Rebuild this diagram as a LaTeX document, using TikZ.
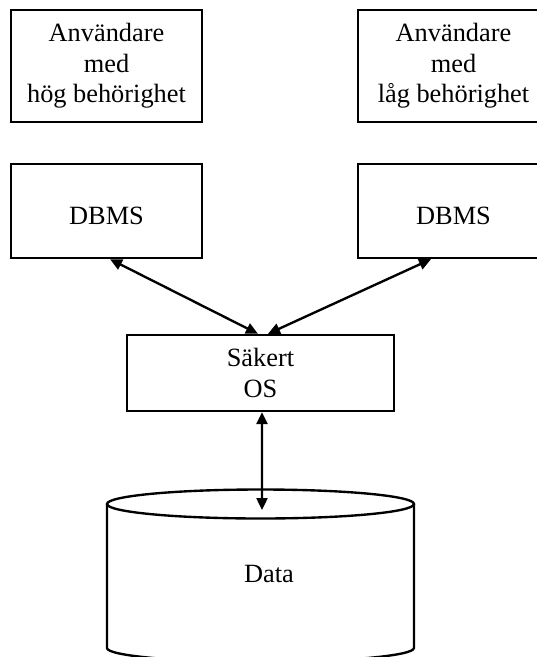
\documentclass[tikz,border=0pt]{standalone}
\usepackage{fontspec}
\setmainfont{Liberation Serif}
\usetikzlibrary{arrows.meta}

\begin{document}
\begin{tikzpicture}[x=0.02cm,y=-0.02cm,
    box/.style={draw,rectangle,line width=1.35pt,inner sep=0pt,align=center,font=\fontsize{15}{17.4}\selectfont},
    link/.style={{Triangle[length=0.24cm,width=0.22cm]}-{Triangle[length=0.24cm,width=0.22cm]},line width=1.35pt}]
     \useasboundingbox (0,0) rectangle (537,657);                                    % page size
     \clip (0,0) rectangle (537,657);
     \node [box,minimum width=3.82cm,minimum height=2.24cm] (userHigh) at (106.5,66) {Användare\\med\\hög behörighet};
     \node [box,minimum width=3.82cm,minimum height=2.24cm] (userLow) at (453.5,66) {Användare\\med\\låg behörighet};
     \node [box,minimum width=3.82cm,minimum height=1.88cm,text height=0.55cm] (dbmsHigh) at (106.5,211) {DBMS};
     \node [box,minimum width=3.82cm,minimum height=1.88cm,text height=0.55cm] (dbmsLow) at (453.5,211) {DBMS};
     \node [box,minimum width=5.34cm,minimum height=1.52cm] (os) at (260.5,373) {Säkert\\OS};
     \draw [line width=1.35pt] (107,504) -- (107,648) arc [start angle=180,end angle=360,x radius=3.07cm,y radius=0.28cm] -- (414,504);   % draw the data cylinder
     \draw [line width=1.35pt] (260.5,504) ellipse [x radius=3.07cm,y radius=0.29cm];
     \node [font=\fontsize{15}{17.4}\selectfont] (data) at (269,574) {Data};
     \coordinate (dataTop) at (262,510);
     \draw [link] ([xshift=0.07cm]dbmsHigh.south) -- ([xshift=-0.05cm]os.north);   % arrows to the OS
     \draw [link] ([xshift=-0.45cm]dbmsLow.south) -- ([xshift=0.15cm]os.north);
     \draw [link] ([xshift=0.03cm]os.south) -- (dataTop);
  \end{tikzpicture}
\end{document}
